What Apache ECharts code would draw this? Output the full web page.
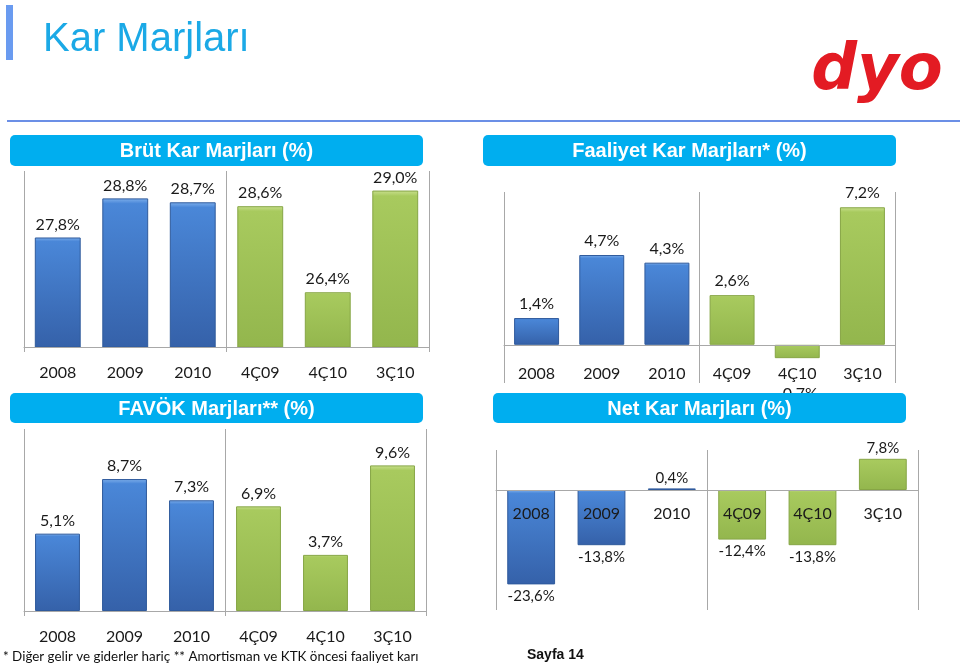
<!DOCTYPE html>
<html>
<head>
<meta charset="utf-8">
<script src="https://cdn.jsdelivr.net/npm/echarts@6/dist/echarts.min.js"></script>
<style>
html,body{margin:0;padding:0;background:#fff;}
#chart{width:960px;height:666px;}
</style>
</head>
<body>
<div id="chart"></div>
<script>
// ---- data ----
const categories = ['2008', '2009', '2010', '4Ç09', '4Ç10', '3Ç10'];
const brutKarValues = [27.8, 28.8, 28.7, 28.6, 26.4, 29.0];
const faaliyetKarValues = [1.4, 4.7, 4.3, 2.6, -0.7, 7.2];
const favokValues = [5.1, 8.7, 7.3, 6.9, 3.7, 9.6];
const netKarValues = [-23.6, -13.8, 0.4, -12.4, -13.8, 7.8];
const panelTitles = ['Brüt Kar Marjları (%)', 'Faaliyet Kar Marjları* (%)', 'FAVÖK Marjları** (%)', 'Net Kar Marjları (%)'];
const pageTitle = 'Kar Marjları';
const footnote = '* Diğer gelir ve giderler hariç ** Amortisman ve KTK öncesi faaliyet karı';
const pageLabel = 'Sayfa 14';
const logoText = 'dyo';
const annualCount = 3; // first three categories are full years

// ---- styling helpers ----
function grad(c0, c1, c2) {
  return new echarts.graphic.LinearGradient(0, 0, 0, 1, [
    {offset: 0, color: c0}, {offset: 0.035, color: c1}, {offset: 1, color: c2}
  ]);
}
const blueStyle = () => ({color: grad('#7FB0EC', '#4A87D8', '#3561A9'), borderColor: '#2F5A9C', borderWidth: 1});
const greenStyle = () => ({color: grad('#C9E08E', '#A8CA5E', '#93B64D'), borderColor: '#86A545', borderWidth: 1});
const fmt = v => v.toFixed(1).replace('.', ',') + '%';

const sepInterval = (idx) => idx === 0 || idx === annualCount;

const grids = [
  {left: 24, top: 171, width: 405, height: 176},
  {left: 504, top: 192, width: 391, height: 191},
  {left: 24, top: 429, width: 402, height: 182},
  {left: 496, top: 450, width: 422, height: 160}
];
const yRanges = [[25, 29.5], [-2, 8], [0, 12], [-30, 10]];
const labelMargins = [18, 21, 18, 16];
const tickShow = [true, false, true, false];
const valueSets = [brutKarValues, faaliyetKarValues, favokValues, netKarValues];
const barWidths = ['68%', '69%', '67%', '68%'];
const valueFont = [16, 16, 16, 15];
const negDist = [5, 28, 5, 4];
const posDist = [5, 6, 5, 3];

// place the category axis at the zero line when the range crosses zero
function zeroOffset(i) {
  const [mn, mx] = yRanges[i];
  if (mn >= 0) return 0;
  return -Math.round((0 - mn) / (mx - mn) * grids[i].height);
}

const xAxes = grids.map((g, i) => ({
  type: 'category', gridIndex: i, data: categories, z: 3,
  position: 'bottom', offset: zeroOffset(i),
  axisLine: {show: true, onZero: false, lineStyle: {color: '#A8A8A8', width: 1}},
  axisTick: {show: tickShow[i], interval: sepInterval, length: 5, lineStyle: {color: '#A8A8A8'}},
  splitLine: {show: true, interval: sepInterval, lineStyle: {color: '#A8A8A8', width: 1}},
  axisLabel: {fontSize: 16, color: '#1a1a1a', margin: labelMargins[i], fontFamily: 'Lato', interval: 0}
}));
const yAxes = grids.map((g, i) => ({
  type: 'value', gridIndex: i, min: yRanges[i][0], max: yRanges[i][1], show: false
}));
const series = valueSets.map((vals, i) => ({
  type: 'bar', xAxisIndex: i, yAxisIndex: i, barWidth: barWidths[i],
  data: vals.map((v, k) => ({
    value: v,
    itemStyle: k < annualCount ? blueStyle() : greenStyle(),
    label: {
      position: v < 0 ? 'bottom' : 'top',
      distance: v < 0 ? negDist[i] : posDist[i]
    }
  })),
  label: {show: true, formatter: p => fmt(p.value), fontSize: valueFont[i], color: '#1a1a1a', fontFamily: 'Lato'}
}));

const titleBoxes = [
  {x: 10, y: 135, w: 413, h: 31},
  {x: 483, y: 135, w: 413, h: 31},
  {x: 10, y: 393, w: 413, h: 30},
  {x: 493, y: 393, w: 413, h: 30}
];
const graphics = [
  {type: 'rect', shape: {x: 6, y: 5, width: 7, height: 55}, style: {fill: '#6A9BF0'}, z: 100},
  {type: 'text', x: 43, y: 40, style: {text: pageTitle, font: '40px "Liberation Sans", Arial, sans-serif', fill: '#1BA9E6', textVerticalAlign: 'middle'}, z: 100},
  {type: 'text', x: 877, y: 72, style: {text: logoText, font: 'italic 900 64px "DejaVu Sans", sans-serif', fill: '#E31B23', textAlign: 'center', textVerticalAlign: 'middle'}, z: 100},
  {type: 'rect', shape: {x: 7, y: 120, width: 953, height: 2}, style: {fill: '#6B8FE6'}, z: 100},
  {type: 'text', x: 3, y: 657, style: {text: footnote, font: '13.4px Lato, sans-serif', fill: '#111', textVerticalAlign: 'middle'}, z: 100},
  {type: 'text', x: 527, y: 655, style: {text: pageLabel, font: 'bold 14px "Liberation Sans", Arial, sans-serif', fill: '#111', textVerticalAlign: 'middle'}, z: 100}
];
titleBoxes.forEach((b, i) => {
  graphics.push({type: 'rect', shape: {x: b.x, y: b.y, width: b.w, height: b.h, r: 5}, style: {fill: '#00AEEF'}, z: 100});
  graphics.push({type: 'text', x: b.x + b.w / 2, y: b.y + b.h / 2 + 1, style: {text: panelTitles[i], font: 'bold 20px "Liberation Sans", Arial, sans-serif', fill: '#fff', textAlign: 'center', textVerticalAlign: 'middle'}, z: 101});
});

const chart = echarts.init(document.getElementById('chart'), null, {renderer: 'canvas'});
chart.setOption({
  animation: false,
  backgroundColor: '#fff',
  grid: grids.map(g => Object.assign({containLabel: false}, g)),
  xAxis: xAxes,
  yAxis: yAxes,
  series: series,
  graphic: graphics
});
</script>
</body>
</html>
